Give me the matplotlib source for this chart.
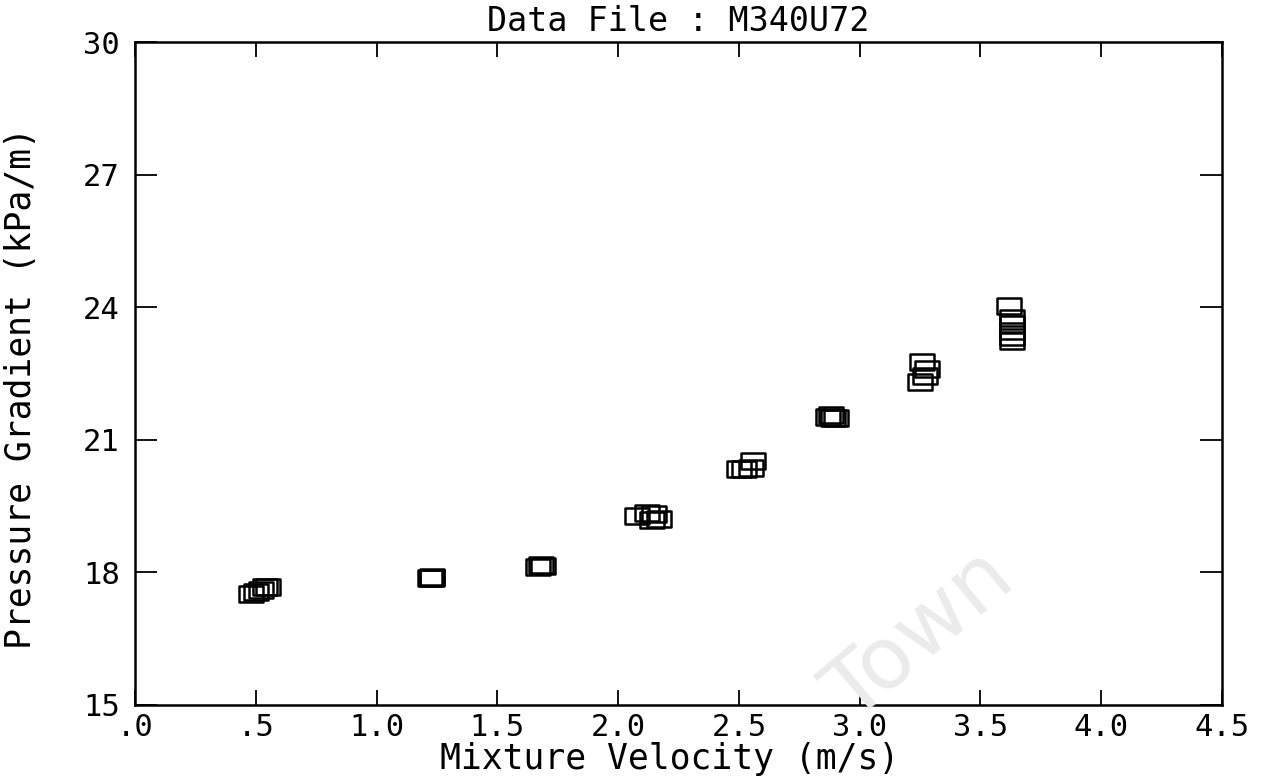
import matplotlib
matplotlib.use("Agg")
import matplotlib.pyplot as plt
from matplotlib.path import Path
from matplotlib.ticker import FixedLocator, FixedFormatter

# ---- data ----
velocity = [0.48, 0.50, 0.52, 0.54, 0.55,
            1.22, 1.23, 1.23,
            1.67, 1.68, 1.69,
            2.08, 2.12, 2.15, 2.14, 2.17,
            2.50, 2.52, 2.55, 2.56,
            2.87, 2.88, 2.89, 2.90,
            3.25, 3.26, 3.28, 3.27,
            3.62, 3.63, 3.63, 3.63, 3.63, 3.63]
pressure_grad = [17.52, 17.56, 17.60, 17.66, 17.68,
                 17.88, 17.90, 17.87,
                 18.13, 18.16, 18.14,
                 19.28, 19.35, 19.32, 19.18, 19.20,
                 20.35, 20.34, 20.37, 20.52,
                 21.52, 21.55, 21.50, 21.50,
                 22.31, 22.76, 22.60, 22.45,
                 24.03, 23.76, 23.62, 23.46, 23.33, 23.24]

x_ticks = [0.0, 0.5, 1.0, 1.5, 2.0, 2.5, 3.0, 3.5, 4.0, 4.5]
x_tick_labels = [".0", ".5", "1.0", "1.5", "2.0", "2.5", "3.0", "3.5", "4.0", "4.5"]
y_ticks = [15, 18, 21, 24, 27, 30]
y_tick_labels = ["15", "18", "21", "24", "27", "30"]

title = "Data File : M340U72"
x_label = "Mixture Velocity (m/s)"
y_label = "Pressure Gradient (kPa/m)"

mono = "DejaVu Sans Mono"

fig = plt.figure(figsize=(12.61, 7.82), dpi=100)
W, H = 1261, 782
L, R, T, B = 135, 1222, 42, 705
ax = fig.add_axes([L / W, 1 - B / H, (R - L) / W, (B - T) / H])

# faint scan watermark
fig.text(1018 / W, 1 - 584 / H, "Town", fontsize=62, color="#ebebeb",
         family="DejaVu Sans", rotation=40, rotation_mode="anchor",
         ha="right", va="baseline", zorder=0)
ax.set_facecolor("none")

# rectangular (wider than tall) hollow marker
rect = Path([(-0.5, -0.32), (0.5, -0.32), (0.5, 0.32), (-0.5, 0.32), (-0.5, -0.32)],
            [Path.MOVETO, Path.LINETO, Path.LINETO, Path.LINETO, Path.CLOSEPOLY])
ax.plot(velocity, pressure_grad, linestyle="none", marker=rect, markersize=17.5,
        markerfacecolor="none", markeredgecolor="black", markeredgewidth=1.8)

ax.set_xlim(0, 4.5)
ax.set_ylim(15, 30)
ax.xaxis.set_major_locator(FixedLocator(x_ticks))
ax.xaxis.set_major_formatter(FixedFormatter(x_tick_labels))
ax.yaxis.set_major_locator(FixedLocator(y_ticks))
ax.yaxis.set_major_formatter(FixedFormatter(y_tick_labels))

ax.tick_params(axis="x", direction="in", top=True, bottom=True, length=11, width=1.3,
               pad=6, labelsize=22)
ax.tick_params(axis="y", direction="in", left=True, right=True, length=16, width=1.3,
               pad=11, labelsize=22)
for lab in ax.get_xticklabels() + ax.get_yticklabels():
    lab.set_family(mono)

for sp in ax.spines.values():
    sp.set_linewidth(1.8)

ax.set_title(title, family=mono, fontsize=24, pad=8)
ax.set_xlabel(x_label, family=mono, fontsize=25)
ax.set_ylabel(y_label, family=mono, fontsize=25)
ax.xaxis.set_label_coords((670 - L) / (R - L), (B - 742) / (B - T))
ax.yaxis.set_label_coords((38 - L) / (R - L), (B - 388) / (B - T))

fig.savefig("out.png", dpi=100)
